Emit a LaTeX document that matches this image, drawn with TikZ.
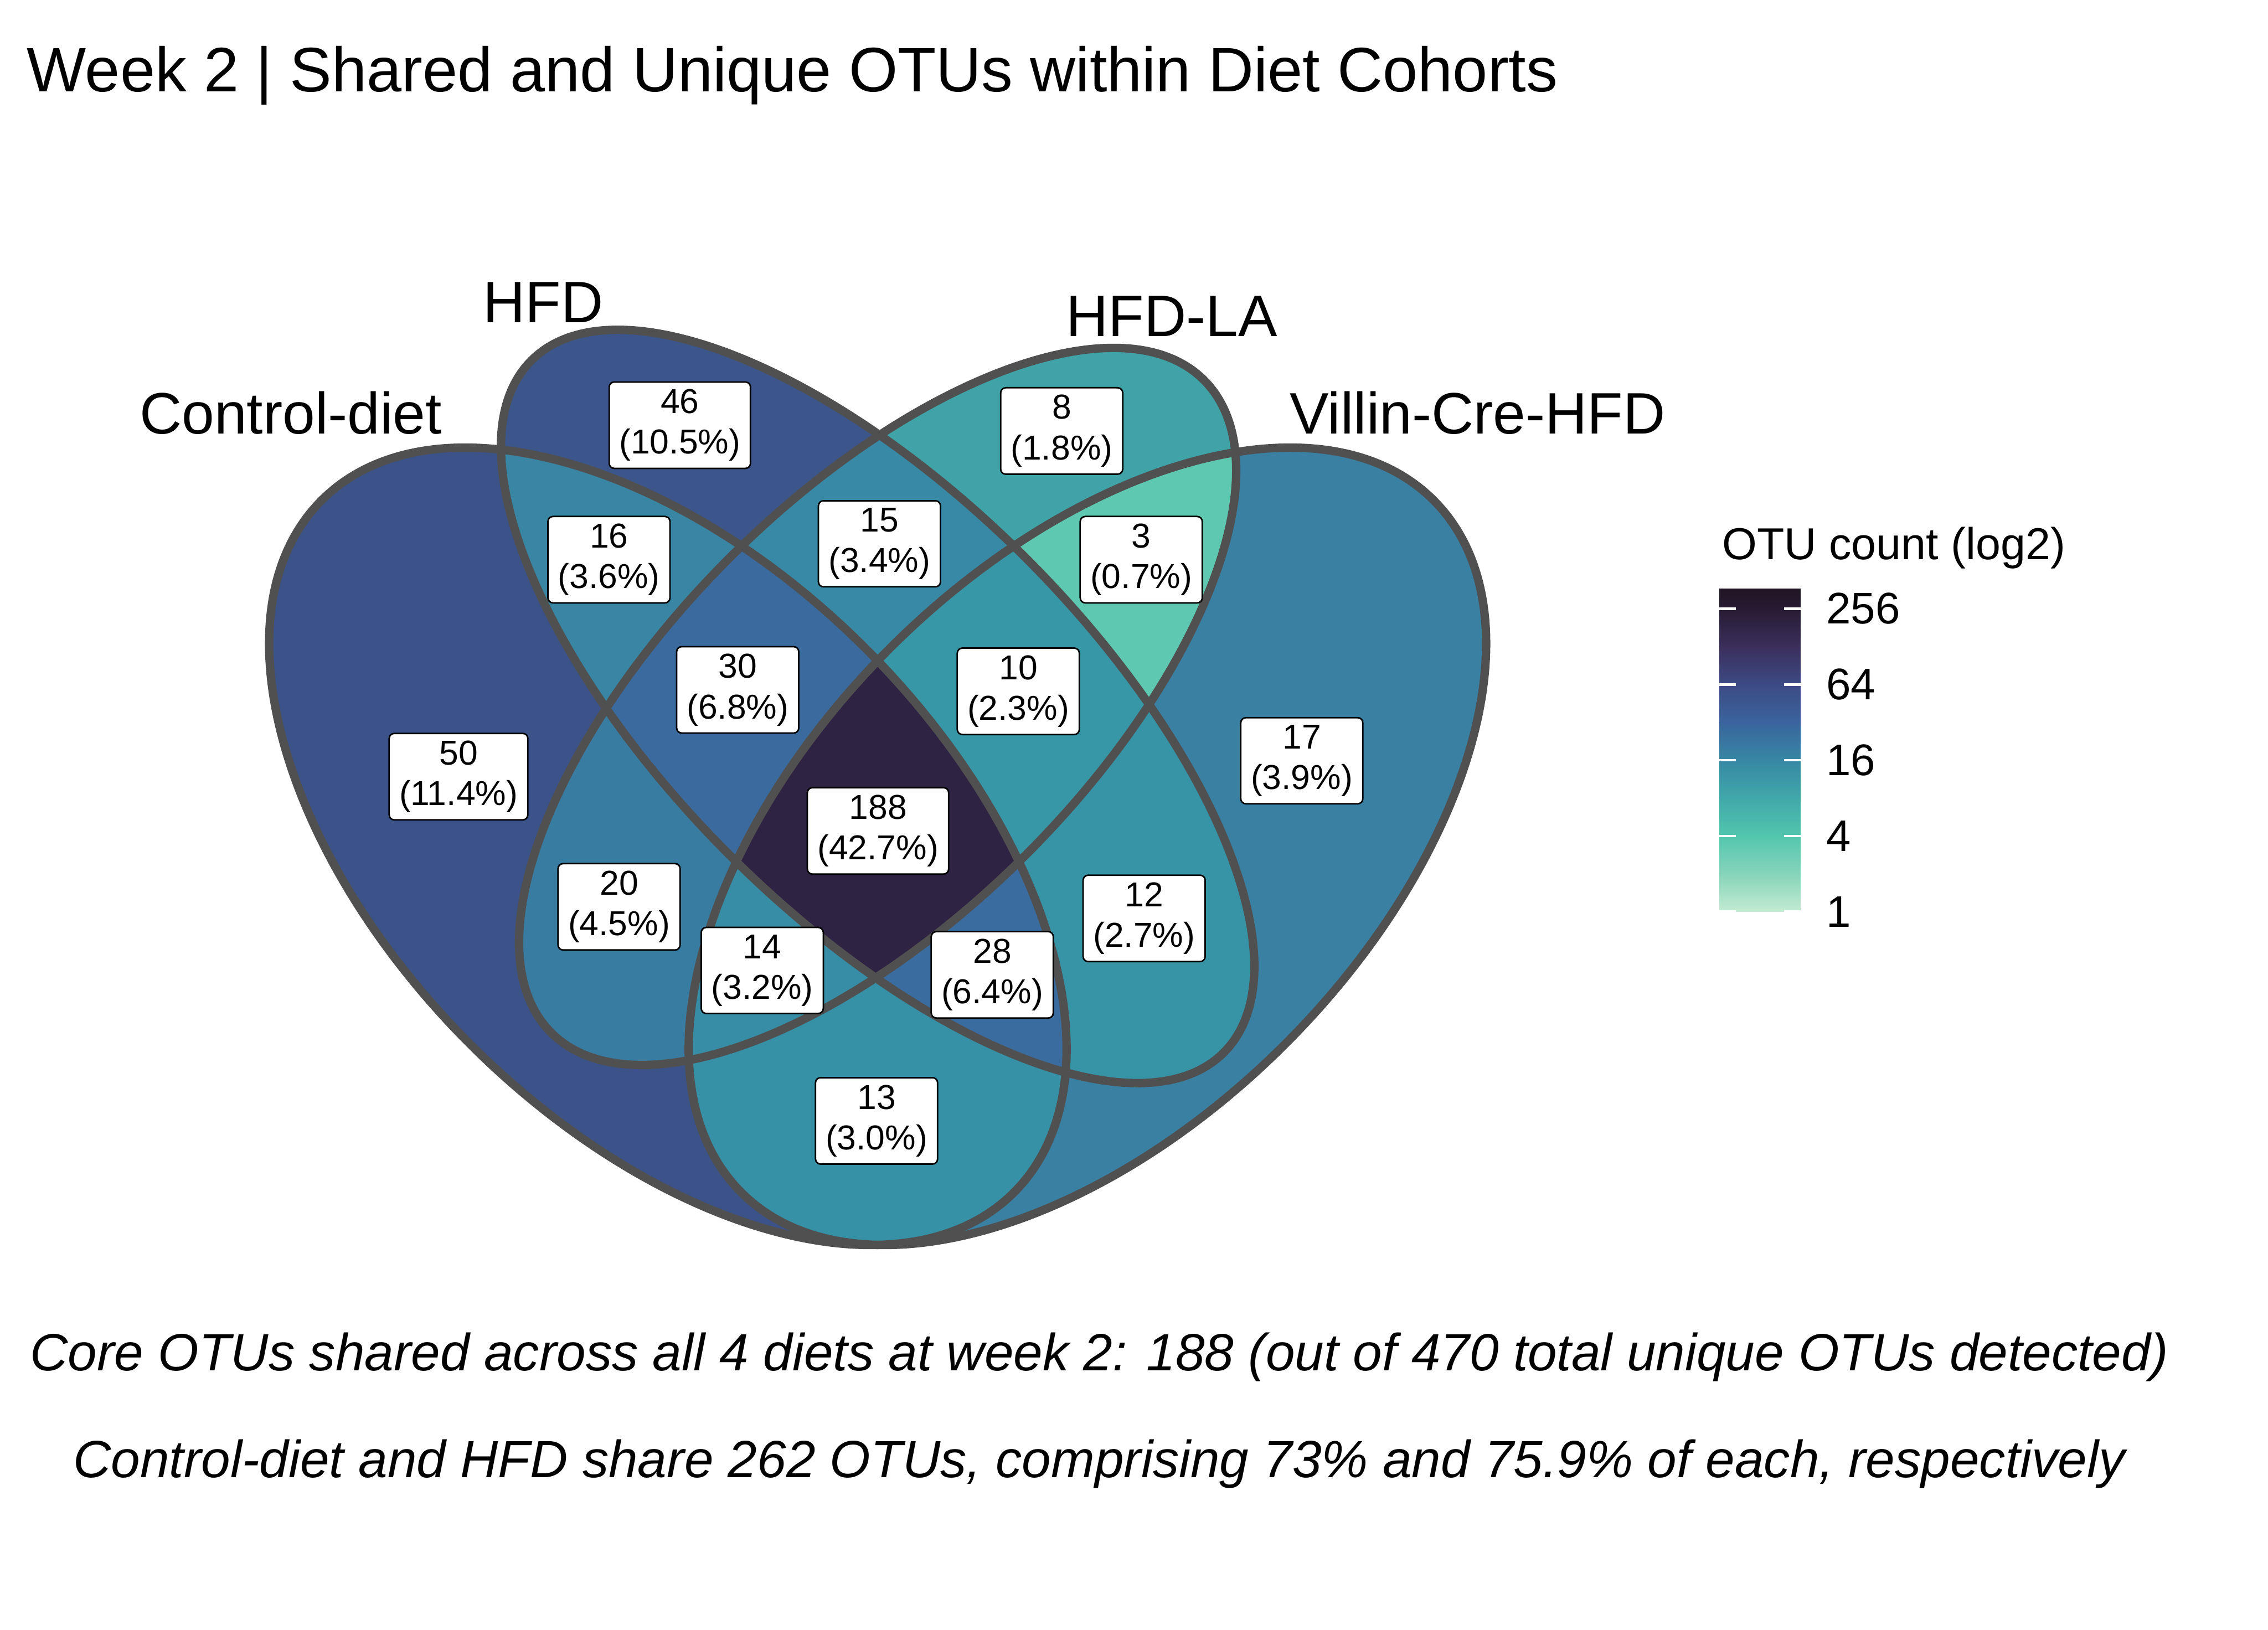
\documentclass[tikz,border=0pt]{standalone}
\usepackage{fontspec}
\setmainfont{Liberation Sans}
\usepackage{xcolor}
\usepackage{tikz}

% region fills (log2 OTU count)
\definecolor{edgegray}{RGB}{80,80,80}
\definecolor{colA}{HTML}{3C5389}
\definecolor{colB}{HTML}{3C568B}
\definecolor{colC}{HTML}{40A3A8}
\definecolor{colD}{HTML}{3A80A3}
\definecolor{colAB}{HTML}{3886A4}
\definecolor{colAC}{HTML}{397CA2}
\definecolor{colAD}{HTML}{3690A6}
\definecolor{colBC}{HTML}{3889A5}
\definecolor{colBD}{HTML}{3793A6}
\definecolor{colCD}{HTML}{5EC9B0}
\definecolor{colABC}{HTML}{3A6A9E}
\definecolor{colABD}{HTML}{3A6C9F}
\definecolor{colACD}{HTML}{378DA5}
\definecolor{colBCD}{HTML}{3797A6}
\definecolor{colABCD}{HTML}{2E2343}
% legend colours
\definecolor{lg0}{HTML}{C3EBD1}
\definecolor{lg1}{HTML}{85D4BA}
\definecolor{lg2}{HTML}{52C6AD}
\definecolor{lg3}{HTML}{40A8AA}
\definecolor{lg4}{HTML}{3787A3}
\definecolor{lg5}{HTML}{3A649E}
\definecolor{lg6}{HTML}{3D4A84}
\definecolor{lg7}{HTML}{3B2F5C}
\definecolor{lg8}{HTML}{271B33}
\definecolor{lg9}{HTML}{1F1523}

\tikzset{
  venn/.style={draw=edgegray, line width=1.65pt},
  cnt/.style={draw=black, line width=0.3pt, fill=white, rounded corners=1pt,
    align=center, inner xsep=0.07cm, inner ysep=0.05cm,
    font=\fontsize{6.8}{8}\selectfont},
  setname/.style={anchor=base, inner sep=0pt, font=\fontsize{11.5}{13}\selectfont},
  note/.style={anchor=base, inner sep=0pt, font=\fontsize{10.3}{12}\selectfont\itshape},
  legtxt/.style={anchor=west, inner sep=0pt, font=\fontsize{8.7}{10}\selectfont},
}

% the four ellipses (centre, major axis, minor axis)
\newcommand{\shapeA}{\pgfpathellipse{\pgfpointxy{0.35}{0.47}}{\pgfpointxy{-0.2475}{0.2475}}{\pgfpointxy{-0.1414}{-0.1414}}}
\newcommand{\shapeB}{\pgfpathellipse{\pgfpointxy{0.5}{0.57}}{\pgfpointxy{-0.2475}{0.2475}}{\pgfpointxy{-0.1061}{-0.1061}}}
\newcommand{\shapeC}{\pgfpathellipse{\pgfpointxy{0.5}{0.57}}{\pgfpointxy{0.2333}{0.2333}}{\pgfpointxy{-0.1061}{0.1061}}}
\newcommand{\shapeD}{\pgfpathellipse{\pgfpointxy{0.65}{0.47}}{\pgfpointxy{0.2475}{0.2475}}{\pgfpointxy{-0.1414}{0.1414}}}
\newcommand{\bigbox}{\pgfpathrectanglecorners{\pgfpointxy{-1}{-1}}{\pgfpointxy{2}{2}}}
% inside / outside clips
\newcommand{\inA}{\shapeA\pgfusepath{clip}}
\newcommand{\inB}{\shapeB\pgfusepath{clip}}
\newcommand{\inC}{\shapeC\pgfusepath{clip}}
\newcommand{\inD}{\shapeD\pgfusepath{clip}}
\newcommand{\outA}{\bigbox\shapeA\pgfseteorule\pgfusepath{clip}}
\newcommand{\outB}{\bigbox\shapeB\pgfseteorule\pgfusepath{clip}}
\newcommand{\outC}{\bigbox\shapeC\pgfseteorule\pgfusepath{clip}}
\newcommand{\outD}{\bigbox\shapeD\pgfseteorule\pgfusepath{clip}}
\newcommand{\vregion}[2]{\begin{scope}#1\fill[#2] (-1,-1) rectangle (2,2);\end{scope}}

\begin{document}
\begin{tikzpicture}
    \useasboundingbox (0,0) rectangle (15.68,11.27);

    % Title
    \node[anchor=base west, inner sep=0pt, font=\fontsize{12.36}{14}\selectfont] (title) at (0.18,10.636)
        {Week 2 | Shared and Unique OTUs within Diet Cohorts};

    % Venn regions
    \begin{scope}[shift={(1.233,0.874)}, scale=9.669]
        \vregion{\inA\outB\outC\outD}{colA}
        \vregion{\outA\inB\outC\outD}{colB}
        \vregion{\outA\outB\inC\outD}{colC}
        \vregion{\outA\outB\outC\inD}{colD}
        \vregion{\inA\inB\outC\outD}{colAB}
        \vregion{\inA\outB\inC\outD}{colAC}
        \vregion{\inA\outB\outC\inD}{colAD}
        \vregion{\outA\inB\inC\outD}{colBC}
        \vregion{\outA\inB\outC\inD}{colBD}
        \vregion{\outA\outB\inC\inD}{colCD}
        \vregion{\inA\inB\inC\outD}{colABC}
        \vregion{\inA\inB\outC\inD}{colABD}
        \vregion{\inA\outB\inC\inD}{colACD}
        \vregion{\outA\inB\inC\inD}{colBCD}
        \vregion{\inA\inB\inC\inD}{colABCD}

        % Outlines
        \draw[venn, rotate around={135:(0.35,0.47)}] (0.35,0.47) ellipse [x radius=0.35, y radius=0.20];
        \draw[venn, rotate around={135:(0.5,0.57)}] (0.5,0.57) ellipse [x radius=0.35, y radius=0.15];
        \draw[venn, rotate around={45:(0.5,0.57)}] (0.5,0.57) ellipse [x radius=0.33, y radius=0.15];
        \draw[venn, rotate around={45:(0.65,0.47)}] (0.65,0.47) ellipse [x radius=0.35, y radius=0.20];
    \end{scope}

    % Set names
    \node[setname] (sA) at (2.01,8.27) {Control-diet};
    \node[setname] (sB) at (3.755,9.04) {HFD};
    \node[setname] (sC) at (8.10,8.945) {HFD-LA};
    \node[setname] (sD) at (10.215,8.27) {Villin-Cre-HFD};

    % Counts
    \node[cnt] (nA) at (3.17,5.90) {50\\(11.4\%)};
    \node[cnt] (nB) at (4.70,8.33) {46\\(10.5\%)};
    \node[cnt] (nC) at (7.34,8.29) {8\\(1.8\%)};
    \node[cnt] (nD) at (9.00,6.01) {17\\(3.9\%)};
    \node[cnt] (nAB) at (4.21,7.40) {16\\(3.6\%)};
    \node[cnt] (nBC) at (6.08,7.51) {15\\(3.4\%)};
    \node[cnt] (nCD) at (7.89,7.40) {3\\(0.7\%)};
    \node[cnt] (nABC) at (5.10,6.50) {30\\(6.8\%)};
    \node[cnt] (nBCD) at (7.04,6.49) {10\\(2.3\%)};
    \node[cnt] (nABCD) at (6.07,5.525) {188\\(42.7\%)};
    \node[cnt] (nAC) at (4.28,5.00) {20\\(4.5\%)};
    \node[cnt] (nBD) at (7.91,4.92) {12\\(2.7\%)};
    \node[cnt] (nACD) at (5.27,4.56) {14\\(3.2\%)};
    \node[cnt] (nABD) at (6.86,4.53) {28\\(6.4\%)};
    \node[cnt] (nAD) at (6.06,3.52) {13\\(3.0\%)};

    % Legend
    \node[anchor=base west, inner sep=0pt, font=\fontsize{8.8}{10}\selectfont] (legtitle) at (11.90,7.40) {OTU count (log2)};
    \foreach \k [evaluate=\k as \kk using int(\k+1)] in {0,...,7}
        \shade[bottom color=lg\k, top color=lg\kk] (11.886,{4.966+0.2619*\k}) rectangle (12.448,{4.966+0.2619*(\k+1)+0.002});
    \shade[bottom color=lg8, top color=lg9] (11.886,{4.966+0.2619*8}) rectangle (12.448,7.20);
    \foreach \v [count=\i from 0] in {1,4,16,64,256} {
        \draw[white, line width=0.5pt] (11.886,{4.966+0.5238*\i}) -- ++(0.114,0);
        \draw[white, line width=0.5pt] (12.448,{4.966+0.5238*\i}) -- ++(-0.114,0);
        \node[legtxt] (tick\i) at (12.62,{4.966+0.5238*\i}) {\v};
    }

    % Notes
    \node[note] (note1) at (7.60,1.794) {Core OTUs shared across all 4 diets at week 2: 188 (out of 470 total unique OTUs detected)};
    \node[note] (note2) at (7.60,1.054) {Control-diet and HFD share 262 OTUs, comprising 73\% and 75.9\% of each, respectively};
\end{tikzpicture}
\end{document}
